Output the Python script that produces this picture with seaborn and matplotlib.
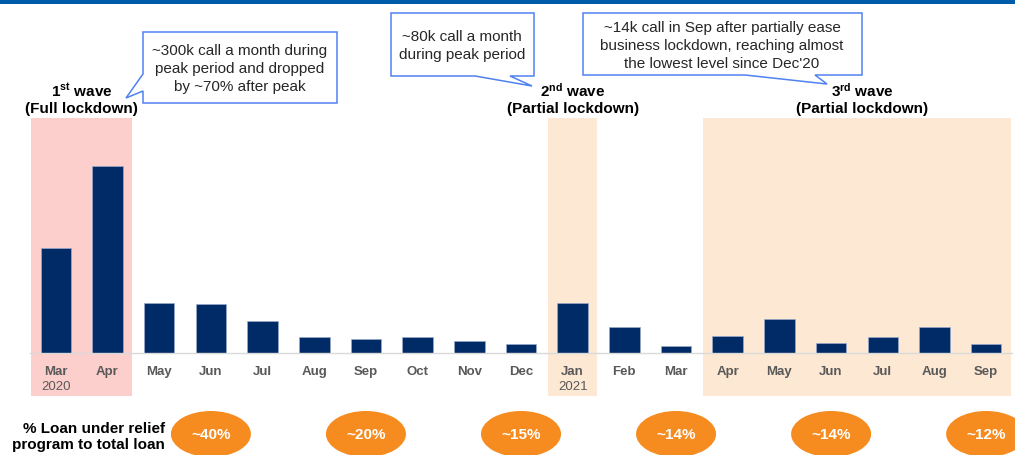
import matplotlib
matplotlib.use("Agg")
import matplotlib.pyplot as plt
from matplotlib.patches import Polygon, Rectangle, Ellipse
import seaborn as sns
import pandas as pd

# ---------------- data ----------------
periods = ["Mar 2020", "Apr 2020", "May 2020", "Jun 2020", "Jul 2020", "Aug 2020",
           "Sep 2020", "Oct 2020", "Nov 2020", "Dec 2020", "Jan 2021", "Feb 2021",
           "Mar 2021", "Apr 2021", "May 2021", "Jun 2021", "Jul 2021", "Aug 2021",
           "Sep 2021"]
month_labels = ["Mar", "Apr", "May", "Jun", "Jul", "Aug", "Sep", "Oct", "Nov", "Dec",
                "Jan", "Feb", "Mar", "Apr", "May", "Jun", "Jul", "Aug", "Sep"]
calls_k = [168, 300, 80, 79, 51, 25, 22, 25, 19, 14, 80, 41, 12, 27, 55, 16, 25, 42, 14]
year_idx = [0, 10]
year_labels = ["2020", "2021"]

wave_start = [0, 10, 13]
wave_end = [1, 10, 18]
wave_num = ["1", "2", "3"]
wave_suffix = ["st", "nd", "rd"]
wave_sub = ["(Full lockdown)", "(Partial lockdown)", "(Partial lockdown)"]
wave_colors = ["#FCCFCD", "#FDE8D3", "#FDE8D3"]

relief_idx = [3, 6, 9, 12, 15, 18]
relief_labels = ["~40%", "~20%", "~15%", "~14%", "~14%", "~12%"]
relief_title = "% Loan under relief\nprogram to total loan"

callout_texts = [
    "~300k call a month during\npeak period and dropped\nby ~70% after peak",
    "~80k call a month\nduring peak period",
    "~14k call in Sep after partially ease\nbusiness lockdown, reaching almost\nthe lowest level since Dec'20",
]

# ---------------- style ----------------
sns.set_style("white")
plt.rcParams["font.family"] = ["Liberation Sans", "DejaVu Sans"]
plt.rcParams["mathtext.fontset"] = "custom"
plt.rcParams["mathtext.rm"] = "Liberation Sans"
plt.rcParams["mathtext.bf"] = "Liberation Sans:bold"

W, H = 1015, 456
BAR = "#002B66"
GRAY = "#595959"
BLUE_EDGE = "#4F82F0"
ORANGE = "#F68B1F"

fig = plt.figure(figsize=(W / 100, H / 100), dpi=100)
fig.patch.set_facecolor("white")


def P(x, y):
    return (x / W, 1 - y / H)


# main axes: baseline at y=354px, top at 119px
ax = fig.add_axes([30 / W, (H - 354) / H, (1012 - 30) / W, (354 - 119) / H])
ax.set_facecolor("none")

df = pd.DataFrame({"period": periods, "calls": calls_k})
sns.barplot(data=df, x="period", y="calls", color=BAR, saturation=1, width=0.59,
            edgecolor="#9AAACB", linewidth=0.5, ax=ax, zorder=3)

ax.set_xlim(-0.5, len(periods) - 0.5)
ax.set_ylim(0, 376)
ax.set_xlabel("")
ax.set_ylabel("")
ax.set_yticks([])
for s in ["left", "right", "top"]:
    ax.spines[s].set_visible(False)
ax.spines["bottom"].set_color("#D9D9D9")
ax.spines["bottom"].set_linewidth(1.0)
ax.spines["bottom"].set_zorder(4)

ax.set_xticks(range(len(periods)))
ax.set_xticklabels(month_labels, fontsize=9.5, fontweight="bold", color=GRAY)
ax.tick_params(axis="x", which="major", length=0, pad=9)
ax.set_xticks([i - 0.5 for i in range(len(periods) + 1)], minor=True)
ax.tick_params(axis="x", which="minor", length=3.5, color="#D9D9D9", width=0.8)

xt = ax.get_xaxis_transform()

# year labels
for i, yl in zip(year_idx, year_labels):
    ax.text(i, (354 - 387) / 235, yl, transform=xt, ha="center", va="center",
            fontsize=9.5, color=GRAY)

# wave shading + labels
bottom_ax = (354 - 397) / (354 - 119)
for s, e, c in zip(wave_start, wave_end, wave_colors):
    x0 = s - 0.48
    x1 = e + 0.48
    ax.add_patch(Rectangle((x0, bottom_ax), x1 - x0, 1 - bottom_ax, transform=xt,
                           facecolor=c, edgecolor="none", zorder=0, clip_on=False))

wave_label_centers = [(0 + 1) / 2, 10, (13 + 18) / 2 + 0.1]
for cx, n, suf, sub in zip(wave_label_centers, wave_num, wave_suffix, wave_sub):
    ax.text(cx, (354 - 91) / 235, r"$\mathbf{" + n + "^{" + suf + "}}$ wave",
            transform=xt, ha="center", va="center", fontsize=11, fontweight="bold",
            color="black", clip_on=False)
    ax.text(cx, (354 - 109) / 235, sub, transform=xt, ha="center", va="center",
            fontsize=11, fontweight="bold", color="black", clip_on=False)

# relief ovals
oval_y = (354 - 435) / 235
for i, lab in zip(relief_idx, relief_labels):
    ax.add_patch(Ellipse((i, oval_y), 80 / 51.68, 46 / 235, transform=xt,
                         facecolor=ORANGE, edgecolor="none", clip_on=False, zorder=2))
    ax.text(i, oval_y, lab, transform=xt, ha="center", va="center", fontsize=11,
            fontweight="bold", color="white", clip_on=False)

fig.text(*P(165, 437), relief_title, ha="right", va="center", fontsize=11,
         fontweight="bold", color="black", linespacing=1.25)

# callout boxes (figure pixel geometry)
callout_shapes = [
    [(143, 33), (337, 33), (337, 104), (143, 104), (143, 92), (126, 99), (143, 75)],
    [(391, 14), (534, 14), (534, 77), (510, 77), (532, 87), (475, 77), (391, 77)],
    [(583, 14), (862, 14), (862, 76), (815, 76), (827, 85), (745, 76), (583, 76)],
]
callout_text_pos = [(240, 69), (462, 46), (722, 46)]
for shape, txt, pos in zip(callout_shapes, callout_texts, callout_text_pos):
    fig.patches.append(Polygon([P(x, y) for x, y in shape], closed=True,
                               transform=fig.transFigure, facecolor="white",
                               edgecolor=BLUE_EDGE, linewidth=1.1, zorder=5))
    fig.text(*P(*pos), txt, ha="center", va="center", fontsize=11, color="#262626",
             linespacing=1.35, zorder=6)

# top header line
fig.patches.append(Rectangle(P(0, 5), 1, 4 / H, transform=fig.transFigure,
                             facecolor="#005BAA", edgecolor="none", zorder=5))

fig.savefig("out.png", dpi=100)
